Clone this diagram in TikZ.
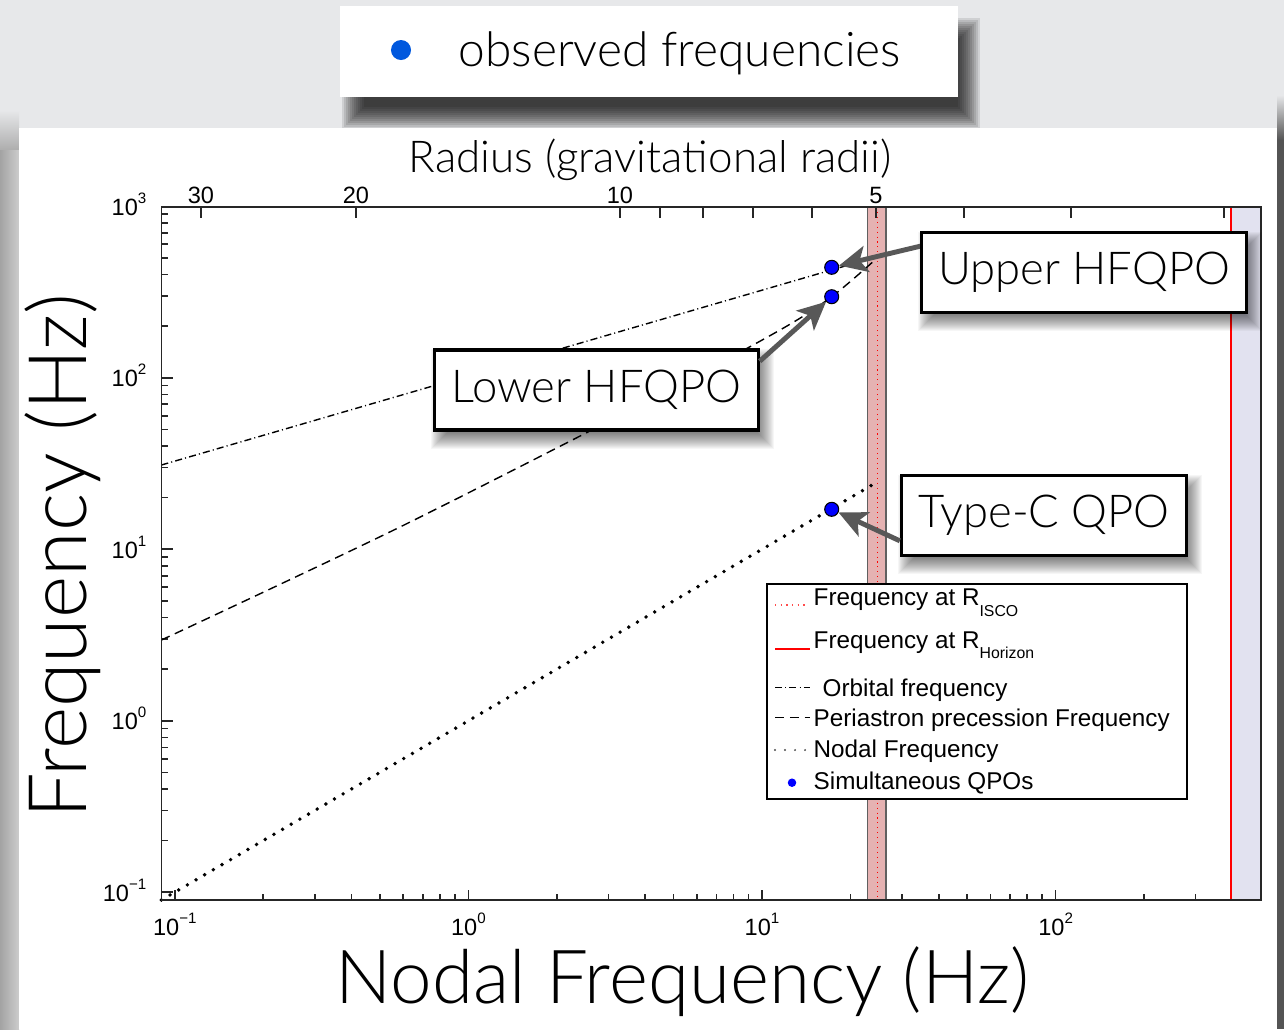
\documentclass[tikz,border=0pt]{standalone}
\usepackage{fontspec}
\setmainfont{Liberation Sans}
\IfFontExistsTF{Lato Light}{\newfontfamily\gill{Lato Light}}{\newfontfamily\gill{Lato}}
\usetikzlibrary{positioning, arrows.meta, calc}

\definecolor{bggray}{RGB}{231,232,234}
\definecolor{obsblue}{RGB}{0,88,222}
\definecolor{qpoblue}{RGB}{0,0,255}
\definecolor{iscofill}{RGB}{229,178,178}
\definecolor{horizonfill}{RGB}{226,226,240}
\definecolor{arrowgray}{RGB}{88,88,88}

\pgfdeclarelayer{back}
\pgfdeclarelayer{shadow}
\pgfsetlayers{back,shadow,main}

\newcommand{\tenpow}[1]{10\raisebox{0.5em}{\fontsize{4.3pt}{5pt}\selectfont #1}}
\newcommand{\lowsub}[2]{\raisebox{-#1}{\fontsize{4.5pt}{5pt}\selectfont #2}}
% soft shadow under a box: node, x offset, y offset (pixels)
\newcommand{\softshadow}[3]{%
	\begin{pgfonlayer}{shadow}
		\foreach \r in {-8,...,8}
			\fill[black, opacity=0.035] ($(#1.north west)+(#2-\r,#3-\r)$) rectangle ($(#1.south east)+(#2+\r,#3+\r)$);
	\end{pgfonlayer}}

\begin{document}
\begin{tikzpicture}[x=0.01cm, y=-0.01cm,
	ticklabel/.style={font=\fontsize{6.7pt}{8pt}\selectfont, inner sep=0pt},
	legtext/.style={font=\fontsize{6.9pt}{8pt}\selectfont, anchor=base west, inner sep=0pt},
	axisline/.style={line width=0.45pt, black!85},
	callout/.style={draw, line width=0.9pt, fill=white, inner xsep=0pt, minimum height=0.8cm,
		font=\gill\fontsize{12.9pt}{14pt}\selectfont},
	callarrow/.style={draw=arrowgray, line width=1.4pt, -{Stealth[length=8pt, width=7.5pt, inset=2pt]}},
	qpo/.style={circle, fill=qpoblue, draw=black, line width=0.3pt, minimum size=0.14cm, inner sep=0pt},
	orbital/.style={line width=0.4pt, dash pattern=on 2pt off 0.9pt on 0.3pt off 0.9pt},
	periastron/.style={line width=0.4pt, dash pattern=on 2.6pt off 1.6pt},
	nodal/.style={line width=1.1pt, line cap=round, dash pattern=on 0pt off 2.85pt}]

	\useasboundingbox (0,0) rectangle (1284,1029);

	\begin{pgfonlayer}{back}
	% Background
	\fill[bggray] (0,0) rectangle (1284,1029);

	% Shadow of the key box, then the panel over it
	\foreach \r in {-12,-10,...,10}
		\fill[black, opacity=0.1] ({340+12-\r},{6+22-\r}) rectangle ({958+12+\r},{97+22+\r});
	\shade[top color=bggray, bottom color=black!32] (0,110) rectangle (19,150);
	\shade[left color=black!36, right color=black!20] (0,150) rectangle (19,1029);
	\shade[top color=bggray, bottom color=black!67] (1277,95) rectangle (1284,140);
	\fill[black!67] (1277,140) rectangle (1284,1029);
	\fill[white] (19,128) rectangle (1277,1029);

	% ISCO and horizon bands
	\fill[iscofill] (867.7,207) rectangle (886,900);
	\draw[gray!75!black, line width=0.4pt] (867.7,207) -- (867.7,900) (886,207) -- (886,900);
	\draw[red, line width=0.4pt, dash pattern=on 0.3pt off 1.1pt] (877.7,207) -- (877.7,900);
	\fill[horizonfill] (1230.7,207) rectangle (1261,900);
	\draw[red, line width=0.5pt] (1230.7,207) -- (1230.7,900);

	% Bottom ticks (nodal frequency)
	\foreach \d/\mmax in {-1/9, 0/9, 1/9, 2/3} {
		\foreach \m in {1,...,\mmax} {
			\pgfmathsetmacro{\tx}{468.4+293.6*(\d+ln(\m)/ln(10))}
			\pgfmathsetmacro{\tl}{\m==1 ? 10 : 6}
			\draw[axisline] (\tx,900) -- ++(0,-\tl);
		}
	}

	% Left ticks (frequency)
	\foreach \d in {-1,0,1,2} {
		\foreach \m in {1,...,9} {
			\pgfmathsetmacro{\ty}{720.7-171.5*(\d+ln(\m)/ln(10))}
			\pgfmathsetmacro{\tl}{\m==1 ? 12 : 7}
			\draw[axisline] (161.4,\ty) -- ++(\tl,0);
		}
	}

	% Top ticks (radius)
	\foreach \px in {201,356,620,660,703,753,812,876,964,1071,1224}
		\draw[axisline] (\px,207) -- ++(0,11);

	% Frequency curves
	\draw[orbital] (161.4,465) -- (876,257);
	\draw[periastron] plot[smooth] coordinates {(161.4,640) (400,527) (650,400) (780,330) (831.7,296.7) (876,259)};
	\draw[nodal] (161.4,900) -- (877.7,481.7);

	% Frame
	\draw[axisline] (161.4,207) rectangle (1261,900);
	\end{pgfonlayer}

	% Key box on top
	\node[fill=white, minimum width=6.18cm, minimum height=0.91cm, inner sep=0pt] (keybox) at (649,51.5) {};
	\node[circle, fill=obsblue, minimum size=0.2cm, inner sep=0pt] (obsdot) at (401,50) {};
	\node[font=\gill\fontsize{13.6pt}{15pt}\selectfont, anchor=base west, inner sep=0pt] (obstext) at (458,66) {observed frequencies};

	% Tick labels
	\foreach \d/\e in {-1/−1, 0/0, 1/1, 2/2}
		\node[ticklabel, anchor=base] (xtick\e) at ({468.4+293.6*\d},935) {\tenpow{\e}};
	\foreach \d/\e in {-1/−1, 0/0, 1/1, 2/2, 3/3}
		\node[ticklabel, anchor=base east] (ytick\e) at (147,{729.7-171.5*\d}) {\tenpow{\e}};
	\foreach \px/\r in {201/30, 356/20, 620/10, 876/5}
		\node[ticklabel, anchor=base] (rtick\r) at (\px,203) {\r};

	% Simultaneous QPOs
	\node[qpo] (upperdot) at (831.7,267.3) {};
	\node[qpo] (lowerdot) at (831.7,296.7) {};
	\node[qpo] (typecdot) at (831.7,509.3) {};

	% Legend
	\node[draw, fill=white, line width=0.45pt, minimum width=4.2cm, minimum height=2.15cm, inner sep=0pt] (legend) at (977,691.5) {};
	\draw[red!70, line width=0.35pt, dash pattern=on 0.4pt off 1.2pt] (775,605) -- (808,605);
	\node[legtext] (legisco) at (813,605) {Frequency at R\lowsub{3.3pt}{ISCO}};
	\draw[red, line width=0.6pt] (775,649.3) -- (810,649.3);
	\node[legtext] (leghorizon) at (813,648) {Frequency at R\lowsub{3.1pt}{Horizon}};
	\draw[orbital] (775,687.3) -- (810,687.3);
	\node[legtext] (legorbital) at (822,696.7) {Orbital frequency};
	\draw[periastron] (775,717.3) -- (810,717.3);
	\node[legtext] (legperiastron) at (813,726.7) {Periastron precession Frequency};
	\draw[nodal, line width=0.6pt, black!70] (775,750) -- (810,750);
	\node[legtext] (legnodal) at (813,757.7) {Nodal Frequency};
	\node[circle, fill=qpoblue, minimum size=0.085cm, inner sep=0pt] (legdot) at (792,782.7) {};
	\node[legtext] (legqpo) at (813,789.3) {Simultaneous QPOs};

	% Callouts
	\draw[callarrow] (921,246) -- (upperdot);
	\node[callout, minimum width=3.24cm] (upper) at (1084,272.5) {Upper HFQPO};
	\node[callout, minimum width=3.23cm] (lower) at (596.5,390) {Lower HFQPO};
	\node[callout, minimum width=2.85cm] (typec) at (1044,515.4) {Type-C QPO};
	\softshadow{upper}{6}{9}
	\softshadow{lower}{6}{9}
	\softshadow{typec}{6}{9}
	\draw[callarrow] (lower.10) -- (lowerdot);
	\draw[callarrow] (typec.190) -- (typecdot);

	% Axis titles
	\node[font=\gill\fontsize{12.5pt}{14pt}\selectfont, anchor=base, inner sep=0pt] (radiuslabel) at (650,172) {Radius (gravitational radii)};
	\node[font=\gill\fontsize{23pt}{25pt}\selectfont, rotate=90, anchor=base, inner sep=0pt] (ylabel) at (86,556) {Frequency (Hz)};
	\node[font=\gill\fontsize{21.2pt}{23pt}\selectfont, anchor=base, inner sep=0pt] (xlabel) at (682.5,1003) {Nodal Frequency (Hz)};

\end{tikzpicture}
\end{document}
